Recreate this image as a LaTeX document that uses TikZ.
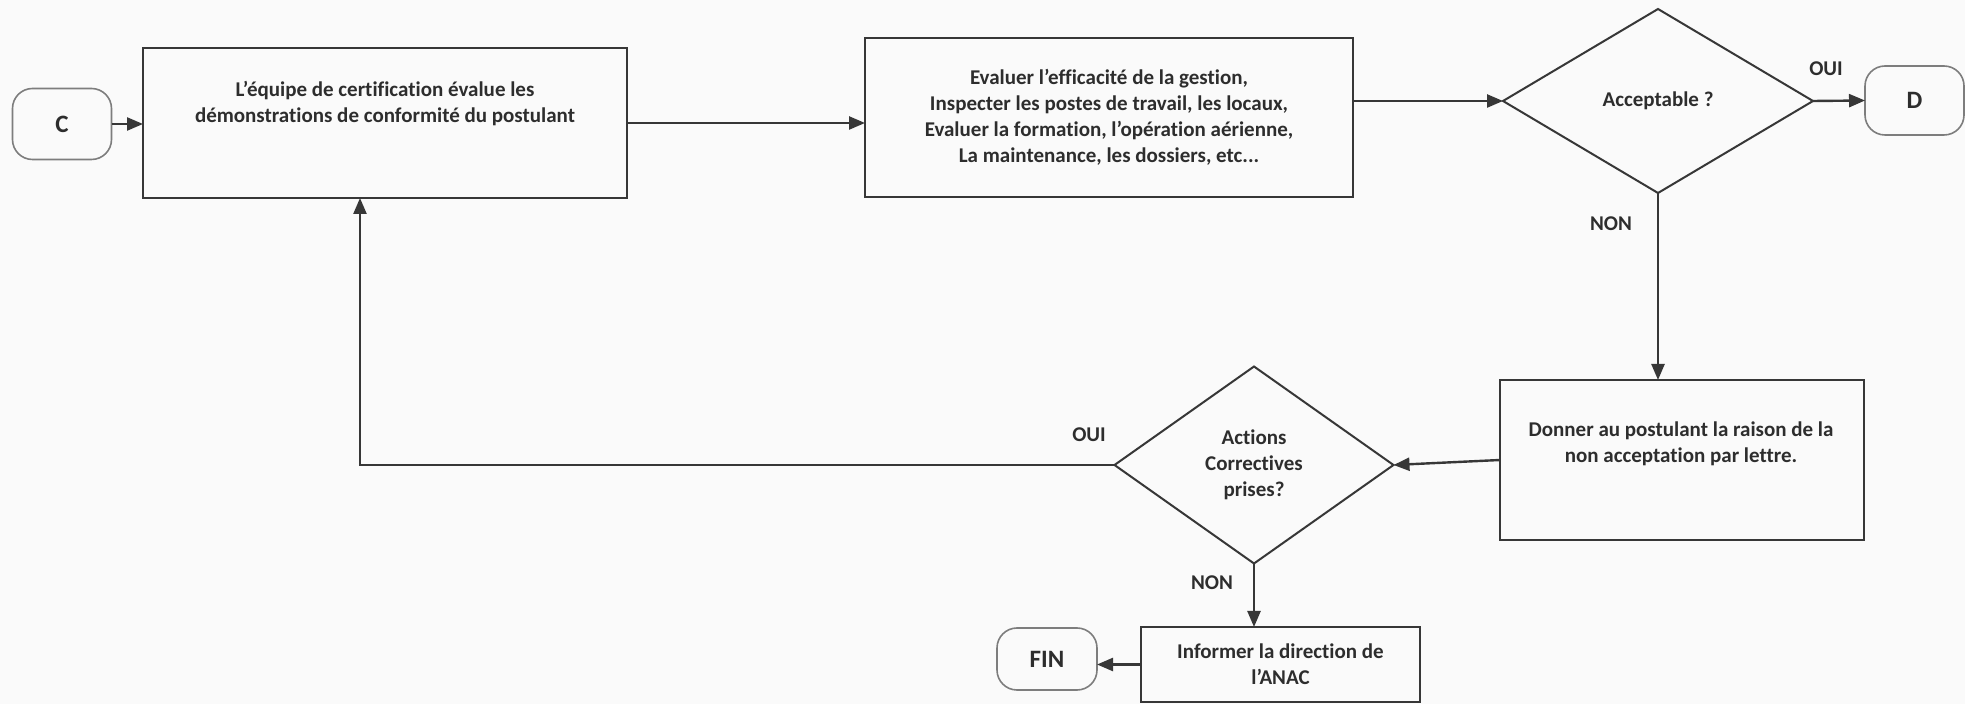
\documentclass[tikz,border=0pt]{standalone}
\usepackage{fontspec}
\setmainfont{Carlito}[Ligatures={NoCommon}]
\usetikzlibrary{arrows.meta,shapes.geometric}
\definecolor{ln}{RGB}{55,55,55}
\definecolor{tx}{RGB}{45,45,45}
\definecolor{termc}{RGB}{125,125,125}
\definecolor{bg}{RGB}{250,250,250}
\begin{document}
\begin{tikzpicture}[x=0.5pt,y=-0.5pt,
 font=\bfseries\fontsize{10.5}{13}\selectfont, text=tx,
 box/.style={draw=ln,line width=1.4pt,rectangle,inner sep=0pt,outer sep=0pt},
 term/.style={draw=termc,line width=0.8pt,rounded corners=10pt,inner sep=0pt,outer sep=0pt,font=\bfseries\fontsize{12.5}{15}\selectfont},
 dec/.style={draw=ln,line width=1pt,diamond,inner sep=0pt,outer sep=0pt,align=center},
 arr/.style={draw=ln,line width=1.2pt,-{Triangle[length=8pt,width=6.5pt]}},
 lab/.style={inner sep=0pt}]
\fill[bg] (0,0) rectangle (1965,704);
\useasboundingbox (0,0) rectangle (1965,704);
% nodes
\node[term,minimum width=49.5pt,minimum height=35.5pt] (C) at (62,124) {C};
\node[box,minimum width=242pt,minimum height=75pt] (main) at (385,123) {};
\node[align=center] (maintxt) at (385,104) {L’équipe de certification évalue les\\démonstrations de conformité du postulant};
\node[box,align=center,minimum width=244pt,minimum height=79.5pt] (eval) at (1109,117.5) {Evaluer l’efficacité de la gestion,\\Inspecter les postes de travail, les locaux,\\Evaluer la formation, l’opération aérienne,\\La maintenance, les dossiers, etc...};
\node[dec,minimum width=155pt,minimum height=92pt] (acc) at (1658,101) {Acceptable ?};
\node[term,minimum width=49.5pt,minimum height=34.5pt] (D) at (1914.5,100.5) {D};
\node[box,minimum width=182pt,minimum height=80pt] (donner) at (1682,460) {};
\node[align=center] (dontxt) at (1681,444) {Donner au postulant la raison de la\\non acceptation par lettre.};
\node[dec,minimum width=139.5pt,minimum height=98.5pt] (act) at (1254,465) {Actions\\Correctives\\prises?};
\node[box,align=center,minimum width=139.5pt,minimum height=37.5pt] (inf) at (1280.5,664.5) {Informer la direction de\\l’ANAC};
\node[term,minimum width=50pt,minimum height=31pt] (fin) at (1047,659) {FIN};
% labels
\node[lab] (oui1) at (1826,69) {OUI};
\node[lab] (non1) at (1611,224) {NON};
\node[lab] (oui2) at (1089,435) {OUI};
\node[lab] (non2) at (1212,583) {NON};
% connectors
\draw[arr] (C.east) -- (C.east -| main.west);
\draw[arr] (main.east) -- (main.east -| eval.west);
\draw[arr] (acc.west -| eval.east) -- (acc.west);
\draw[arr] (acc.east) -- (D.west);
\draw[arr] (acc.south) -- (acc.south |- donner.north);
\draw[arr] (donner.west) -- (act.east);
\coordinate (ret) at (360,465);
\draw[arr] (act.west) -- (ret) -- (ret |- main.south);
\draw[arr] (act.south) -- (act.south |- inf.north);
\draw[arr] (inf.west) -- (inf.west -| fin.east);
\end{tikzpicture}
\end{document}
